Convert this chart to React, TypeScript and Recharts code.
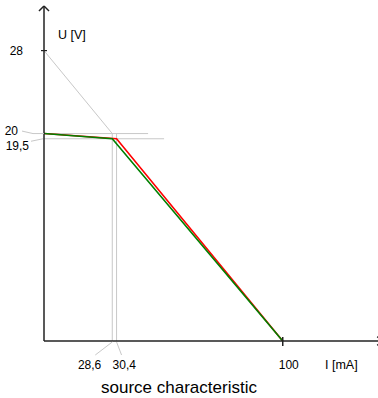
import React from "react";
import { LineChart, Line, XAxis, YAxis, ReferenceLine } from "recharts";

// Axis ticks (mA / V) and their printed labels
const X_TICKS = [28.6, 30.4, 100];
const X_TICK_LABELS = ["28,6", "30,4", "100"];
const Y_TICKS = [19.5, 20, 28];
const Y_TICK_LABELS = ["19,5", "20", "28"];

// Series: current I [mA] and voltage U [V]
const RED_I = [0, 30.4, 100];
const RED_U = [20, 19.5, 0];
const GREEN_I = [0, 28.6, 100];
const GREEN_U = [20, 19.5, 0];

// Grey construction lines
const LOAD_I = [0, 28.6];
const LOAD_U = [28, 20];
const H_GUIDE_U = [20, 19.5];
const H_GUIDE_END_I = [43.6, 50.3];
const V_GUIDE_I = [28.6, 30.4];
const V_GUIDE_TOP_U = [20, 20];

const X_MAX = 139.9;
const Y_MAX = 32.3;

const redData = RED_I.map((i, k) => ({ x: i, y: RED_U[k] }));
const greenData = GREEN_I.map((i, k) => ({ x: i, y: GREEN_U[k] }));

const FONT = "'Liberation Sans', Arial, sans-serif";
const GREY = "#c8c8c8";
const AXIS = "#222";

const XTick = (props: any) => {
  const { x, y, payload } = props;
  const v = payload.value;
  const label = X_TICK_LABELS[X_TICKS.indexOf(v)];
  if (v === 28.6) {
    return (
      <g>
        <line x1={x} y1={y + 1} x2={x - 17} y2={y + 14} stroke={GREY} />
        <text x={x - 11} y={y + 28} textAnchor="end" fontSize={12} fontFamily={FONT} fill="#000">{label}</text>
      </g>
    );
  }
  if (v === 30.4) {
    return (
      <g>
        <line x1={x} y1={y + 1} x2={x + 5} y2={y + 14} stroke={GREY} />
        <text x={x - 4} y={y + 28} textAnchor="start" fontSize={12} fontFamily={FONT} fill="#000">{label}</text>
      </g>
    );
  }
  return (
    <g>
      <line x1={x} y1={y - 4} x2={x} y2={y + 5} stroke={AXIS} strokeWidth={1.5} />
      <text x={x - 4} y={y + 28} textAnchor="start" fontSize={12} fontFamily={FONT} fill="#000">{label}</text>
    </g>
  );
};

const YTick = (props: any) => {
  const { x, y, payload } = props;
  const v = payload.value;
  const label = Y_TICK_LABELS[Y_TICKS.indexOf(v)];
  if (v === 28) {
    return (
      <g>
        <line x1={x - 3} y1={y} x2={x + 3} y2={y} stroke={AXIS} strokeWidth={1.2} />
        <text x={x - 21} y={y + 4} textAnchor="end" fontSize={12} fontFamily={FONT} fill="#000">{label}</text>
      </g>
    );
  }
  if (v === 20) {
    return (
      <g>
        <polyline points={`${x - 22},${y - 2.5} ${x - 11},${y} ${x},${y}`} fill="none" stroke={GREY} />
        <text x={x - 26} y={y + 1} textAnchor="end" fontSize={12} fontFamily={FONT} fill="#000">{label}</text>
      </g>
    );
  }
  return (
    <g>
      <line x1={x - 13} y1={y + 2.5} x2={x - 1} y2={y} stroke={GREY} />
      <text x={x - 15} y={y + 11} textAnchor="end" fontSize={12} fontFamily={FONT} fill="#000">{label}</text>
    </g>
  );
};

const YLabel = (props: any) => {
  const vb = props.viewBox || { x: 0, y: 6, width: 44 };
  return (
    <text x={vb.x + vb.width + 14} y={vb.y + 33} fontSize={12.5} fontFamily={FONT} fill="#000">U [V]</text>
  );
};

const XLabel = (props: any) => {
  const vb = props.viewBox || { x: 44, y: 341, width: 334 };
  return (
    <text x={vb.x + 281} y={vb.y + 28} fontSize={12.5} fontFamily={FONT} fill="#000">I [mA]</text>
  );
};

export default function App() {
  return (
    <div style={{ position: "absolute", left: 0, top: 0, width: 378, height: 398 }}>
      <LineChart width={378} height={398} margin={{ top: 6, right: 0, bottom: 27, left: 0 }}>
        <XAxis
          type="number"
          dataKey="x"
          domain={[0, X_MAX]}
          ticks={X_TICKS}
          interval={0}
          tickSize={0}
          tickMargin={0}
          tickLine={false}
          tick={<XTick />}
          axisLine={{ stroke: AXIS, strokeWidth: 1.5 }}
          height={30}
          allowDataOverflow
          label={<XLabel />}
        />
        <YAxis
          type="number"
          dataKey="y"
          domain={[0, Y_MAX]}
          ticks={Y_TICKS}
          interval={0}
          tickSize={0}
          tickMargin={0}
          tickLine={false}
          tick={<YTick />}
          axisLine={{ stroke: AXIS, strokeWidth: 1.5 }}
          width={44}
          allowDataOverflow
          label={<YLabel />}
        />
        {/* grey construction lines */}
        <ReferenceLine
          segment={[{ x: LOAD_I[0], y: LOAD_U[0] }, { x: LOAD_I[1], y: LOAD_U[1] }]}
          stroke={GREY}
          ifOverflow="visible"
        />
        {H_GUIDE_U.map((u, k) => (
          <ReferenceLine
            key={"h" + k}
            segment={[{ x: 0, y: u }, { x: H_GUIDE_END_I[k], y: u }]}
            stroke={GREY}
            ifOverflow="visible"
          />
        ))}
        {V_GUIDE_I.map((i, k) => (
          <ReferenceLine
            key={"v" + k}
            segment={[{ x: i, y: 0 }, { x: i, y: V_GUIDE_TOP_U[k] }]}
            stroke={GREY}
            ifOverflow="visible"
          />
        ))}
        {/* axis arrow heads */}
        <ReferenceLine
          segment={[{ x: -2.1, y: Y_MAX - 0.48 }, { x: 0, y: Y_MAX }]}
          stroke={AXIS}
          strokeWidth={1.5}
          ifOverflow="visible"
        />
        <ReferenceLine
          segment={[{ x: 2.1, y: Y_MAX - 0.48 }, { x: 0, y: Y_MAX }]}
          stroke={AXIS}
          strokeWidth={1.5}
          ifOverflow="visible"
        />
        <ReferenceLine
          segment={[{ x: X_MAX - 0.3, y: 0.42 }, { x: X_MAX + 1.7, y: 0 }]}
          stroke={AXIS}
          strokeWidth={1.5}
          ifOverflow="visible"
        />
        <ReferenceLine
          segment={[{ x: X_MAX - 0.3, y: -0.42 }, { x: X_MAX + 1.7, y: 0 }]}
          stroke={AXIS}
          strokeWidth={1.5}
          ifOverflow="visible"
        />
        <Line
          data={redData}
          dataKey="y"
          type="linear"
          stroke="#ff0000"
          strokeWidth={1.6}
          dot={false}
          isAnimationActive={false}
        />
        <Line
          data={greenData}
          dataKey="y"
          type="linear"
          stroke="#008000"
          strokeWidth={1.6}
          dot={false}
          isAnimationActive={false}
        />
      </LineChart>
      <svg
        width={378}
        height={398}
        style={{ position: "absolute", left: 0, top: 0, pointerEvents: "none" }}
      >
        <text x={179} y={393} textAnchor="middle" fontSize={17} fontFamily={FONT} fill="#000">
          source characteristic
        </text>
      </svg>
    </div>
  );
}
